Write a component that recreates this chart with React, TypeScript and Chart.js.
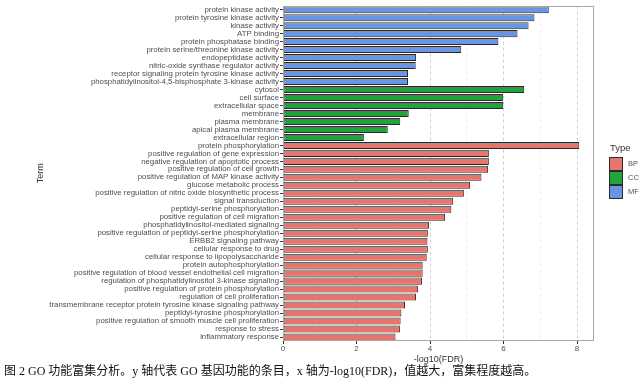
import React, { useEffect, useRef } from "react";
import { Chart, registerables } from "chart.js";

Chart.register(...registerables);

const mfTerms = [
  "protein kinase activity",
  "protein tyrosine kinase activity",
  "kinase activity",
  "ATP binding",
  "protein phosphatase binding",
  "protein serine/threonine kinase activity",
  "endopeptidase activity",
  "nitric-oxide synthase regulator activity",
  "receptor signaling protein tyrosine kinase activity",
  "phosphatidylinositol-4,5-bisphosphate 3-kinase activity",
];
const mfValues = [7.23, 6.84, 6.68, 6.38, 5.86, 4.85, 3.62, 3.61, 3.4, 3.4];

const ccTerms = [
  "cytosol",
  "cell surface",
  "extracellular space",
  "membrane",
  "plasma membrane",
  "apical plasma membrane",
  "extracellular region",
];
const ccValues = [6.56, 5.99, 5.99, 3.42, 3.19, 2.85, 2.2];

const bpTerms = [
  "protein phosphorylation",
  "positive regulation of gene expression",
  "negative regulation of apoptotic process",
  "positive regulation of cell growth",
  "positive regulation of MAP kinase activity",
  "glucose metabolic process",
  "positive regulation of nitric oxide biosynthetic process",
  "signal transduction",
  "peptidyl-serine phosphorylation",
  "positive regulation of cell migration",
  "phosphatidylinositol-mediated signaling",
  "positive regulation of peptidyl-serine phosphorylation",
  "ERBB2 signaling pathway",
  "cellular response to drug",
  "cellular response to lipopolysaccharide",
  "protein autophosphorylation",
  "positive regulation of blood vessel endothelial cell migration",
  "regulation of phosphatidylinositol 3-kinase signaling",
  "positive regulation of protein phosphorylation",
  "regulation of cell proliferation",
  "transmembrane receptor protein tyrosine kinase signaling pathway",
  "peptidyl-tyrosine phosphorylation",
  "positive regulation of smooth muscle cell proliferation",
  "response to stress",
  "inflammatory response",
];
const bpValues = [
  8.06, 5.6, 5.6, 5.58, 5.4, 5.09, 4.92, 4.63, 4.58, 4.41, 3.97, 3.94, 3.93,
  3.94, 3.91, 3.8, 3.8, 3.78, 3.67, 3.62, 3.32, 3.22, 3.2, 3.18, 3.06,
];

const typeNames = ["BP", "CC", "MF"];
const typeColors = ["#E8756C", "#1EA53C", "#6896E4"];

const xMax = 8.46;
const SANS = "'Liberation Sans', Arial, sans-serif";

export default function App() {
  const ref = useRef<HTMLCanvasElement | null>(null);

  useEffect(() => {
    document.body.style.margin = "0";
    const labels = [...mfTerms, ...ccTerms, ...bpTerms];
    const values = [...mfValues, ...ccValues, ...bpValues];
    const colors = [
      ...mfTerms.map(() => typeColors[2]),
      ...ccTerms.map(() => typeColors[1]),
      ...bpTerms.map(() => typeColors[0]),
    ];

    const panelPlugin = {
      id: "panel",
      afterDatasetsDraw(chart: any) {
        const { ctx, chartArea } = chart;
        ctx.save();
        ctx.strokeStyle = "#a8a8a8";
        ctx.lineWidth = 1;
        ctx.strokeRect(
          Math.round(chartArea.left) + 0.5,
          Math.round(chartArea.top) + 0.5,
          Math.round(chartArea.right - chartArea.left) - 1,
          Math.round(chartArea.bottom - chartArea.top) - 1
        );
        ctx.restore();
      },
      afterDraw(chart: any) {
        const { ctx } = chart;
        ctx.save();
        ctx.fillStyle = "#333";
        ctx.font = `9.5px ${SANS}`;
        ctx.textBaseline = "middle";
        ctx.textAlign = "left";
        ctx.fillText("Type", 610, 148);
        const x0 = 609;
        let y0 = 157;
        for (let i = 0; i < typeNames.length; i++) {
          ctx.fillStyle = typeColors[i];
          ctx.fillRect(x0, y0, 14, 14);
          ctx.strokeStyle = "#2a2a2a";
          ctx.lineWidth = 1;
          ctx.strokeRect(x0 + 0.5, y0 + 0.5, 13, 13);
          ctx.fillStyle = "#555";
          ctx.font = `7.5px ${SANS}`;
          ctx.fillText(typeNames[i], 628, y0 + 7);
          y0 += 14;
        }
        ctx.restore();
      },
    };

    const chart = new Chart(ref.current as HTMLCanvasElement, {
      type: "bar",
      data: {
        labels,
        datasets: [
          {
            data: values,
            backgroundColor: colors,
            borderColor: "#2a2a2a",
            borderWidth: 1,
            borderSkipped: false,
            categoryPercentage: 1,
            barPercentage: 0.88,
          },
        ],
      },
      options: {
        indexAxis: "y",
        animation: false,
        responsive: false,
        maintainAspectRatio: false,
        layout: { padding: { left: 31, right: 47, top: 2, bottom: 19 } },
        plugins: {
          legend: { display: false },
          tooltip: { enabled: false },
        },
        scales: {
          x: {
            type: "linear",
            min: 0,
            max: xMax,
            afterFit: (s: any) => {
              s.height = 24;
            },
            ticks: {
              stepSize: 1,
              autoSkip: false,
              includeBounds: false,
              padding: 0,
              color: "#4d4d4d",
              font: { size: 8, family: SANS },
              callback: (v: any) => (Number(v) % 2 === 0 ? String(v) : ""),
            },
            grid: {
              color: (c: any) =>
                c.tick && c.tick.value === 0
                  ? "rgba(0,0,0,0)"
                  : c.tick && c.tick.value % 2 === 0
                  ? "#cdcdcd"
                  : "#ededed",
              lineWidth: 1,
              tickLength: 3,
              tickColor: (c: any) =>
                c.tick && c.tick.value % 2 === 0 ? "#333" : "rgba(0,0,0,0)",
            },
            border: { display: false, dash: [3, 3] },
            title: {
              display: true,
              text: "-log10(FDR)",
              color: "#333",
              font: { size: 9, family: SANS },
              padding: { top: 0, bottom: 0 },
            },
          },
          y: {
            type: "category",
            afterFit: (s: any) => {
              s.width = 252;
            },
            ticks: {
              autoSkip: false,
              padding: 1,
              color: "#4d4d4d",
              font: { size: 7.8, family: SANS },
            },
            grid: {
              offset: false,
              drawOnChartArea: false,
              tickLength: 3,
              tickColor: "#333",
            },
            border: { display: false },
            title: {
              display: true,
              text: "Term",
              color: "#333",
              font: { size: 9, family: SANS },
              padding: { top: 4, bottom: 0 },
            },
          },
        },
      },
      plugins: [panelPlugin],
    } as any);

    return () => chart.destroy();
  }, []);

  return (
    <div style={{ position: "relative", width: 641, height: 384, background: "#fff" }}>
      <canvas
        ref={ref}
        width={641}
        height={384}
        style={{ position: "absolute", left: 0, top: 0, width: 641, height: 384 }}
      />
      <div
        style={{
          position: "absolute",
          left: 4,
          top: 364,
          fontFamily: "'Liberation Serif', 'Noto Sans CJK SC', serif",
          fontSize: 12,
          lineHeight: "14px",
          color: "#111",
          whiteSpace: "nowrap",
        }}
      >
        图 2 GO 功能富集分析。y 轴代表 GO 基因功能的条目，x 轴为-log10(FDR)，值越大，富集程度越高。
      </div>
    </div>
  );
}
